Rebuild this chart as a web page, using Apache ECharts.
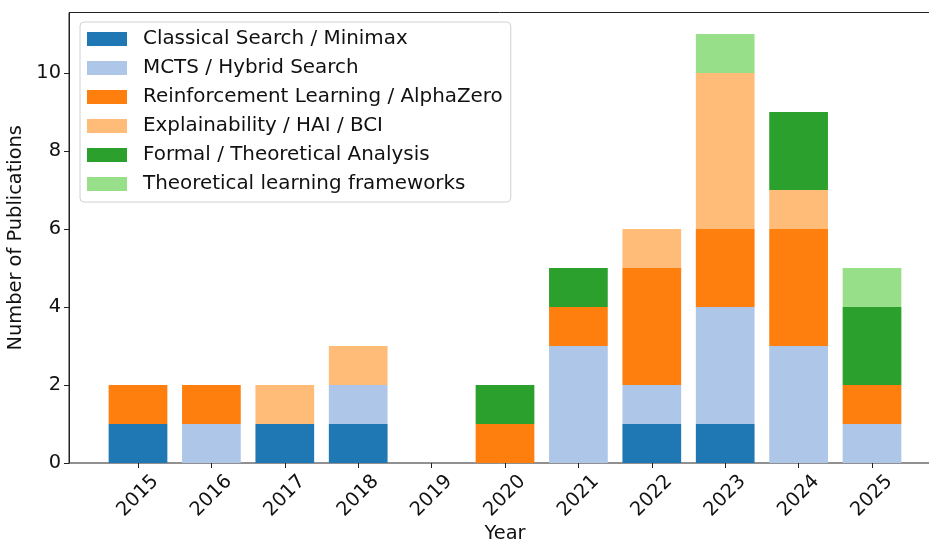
<!DOCTYPE html>
<html>
<head>
<meta charset="UTF-8">
<title>Publications per year</title>
<script src="https://cdn.jsdelivr.net/npm/echarts@6/dist/echarts.min.js"></script>
<style>
  html, body { margin: 0; padding: 0; background: #fff; }
  #main { width: 929px; height: 540px; }
</style>
</head>
<body>
<div id="main"></div>
<script>
// data
var years = ['2015', '2016', '2017', '2018', '2019', '2020', '2021', '2022', '2023', '2024', '2025'];
var classical   = [1, 0, 1, 1, 0, 0, 0, 1, 1, 0, 0];
var mcts        = [0, 1, 0, 1, 0, 0, 3, 1, 3, 3, 1];
var rl          = [1, 1, 0, 0, 0, 1, 1, 3, 2, 3, 1];
var explain     = [0, 0, 1, 1, 0, 0, 0, 1, 4, 1, 0];
var formal      = [0, 0, 0, 0, 0, 1, 1, 0, 0, 2, 2];
var theoLearn   = [0, 0, 0, 0, 0, 0, 0, 0, 1, 0, 1];
var yTicks = [0, 2, 4, 6, 8, 10];

var groups = [
  { name: 'Classical Search / Minimax', data: classical, color: '#1f77b4' },
  { name: 'MCTS / Hybrid Search', data: mcts, color: '#aec7e8' },
  { name: 'Reinforcement Learning / AlphaZero', data: rl, color: '#ff7f0e' },
  { name: 'Explainability / HAI / BCI', data: explain, color: '#ffbb78' },
  { name: 'Formal / Theoretical Analysis', data: formal, color: '#2ca02c' },
  { name: 'Theoretical learning frameworks', data: theoLearn, color: '#98df8a' }
];

var font = 'DejaVu Sans';
var fs = 19.4;
var ink = '#111';
var spine = '#222';
var yMax = 11.55;

var series = groups.map(function (g) {
  return {
    name: g.name,
    type: 'bar',
    stack: 'all',
    barWidth: '80%',
    xAxisIndex: 0,
    yAxisIndex: 0,
    itemStyle: { color: g.color },
    data: g.data
  };
});

var myChart = echarts.init(document.getElementById('main'));
var option = {
  animation: false,
  textStyle: { fontFamily: font },
  grid: [
    // bars: the category bands, inset so the outer frame keeps matplotlib's margins
    { left: 101.3, right: 20.3, top: 12.5, bottom: 77, outerBoundsMode: 'none', containLabel: false },
    // outer frame with the y axis
    { left: 69, right: -12, top: 12.5, bottom: 77, outerBoundsMode: 'none', containLabel: false,
      show: true, borderColor: spine, borderWidth: 1 }
  ],
  legend: {
    orient: 'vertical',
    left: 80,
    top: 22,
    itemWidth: 40,
    itemHeight: 14,
    itemGap: 9,
    padding: [7, 8, 8, 7],
    backgroundColor: '#fff',
    borderColor: '#d0d0d0',
    borderWidth: 1,
    borderRadius: 4,
    icon: 'rect',
    textStyle: { fontFamily: font, fontSize: 19.9, color: ink, lineHeight: 20, padding: [0, 0, 0, 11] },
    data: groups.map(function (g) { return g.name; })
  },
  xAxis: [{
    type: 'category',
    gridIndex: 0,
    data: years,
    boundaryGap: true,
    axisLine: { show: false },
    axisTick: { show: true, alignWithLabel: true, length: 5, lineStyle: { color: spine } },
    axisLabel: {
      rotate: 45,
      align: 'center',
      verticalAlign: 'middle',
      margin: 33,
      fontSize: fs,
      color: ink,
      fontFamily: font,
      interval: 0
    },
    splitLine: { show: false }
  }, {
    type: 'value',
    gridIndex: 1,
    min: 0,
    max: 1,
    name: 'Year',
    nameLocation: 'middle',
    nameGap: 61,
    nameTextStyle: { fontFamily: font, fontSize: fs, color: ink },
    axisLine: { show: false },
    axisTick: { show: false },
    axisLabel: { show: false },
    splitLine: { show: false }
  }],
  yAxis: [{
    type: 'value',
    gridIndex: 0,
    min: 0,
    max: yMax,
    show: false,
    splitLine: { show: false }
  }, {
    type: 'value',
    gridIndex: 1,
    min: 0,
    max: yMax,
    name: 'Number of Publications',
    nameLocation: 'middle',
    nameGap: 39,
    nameTextStyle: { fontFamily: font, fontSize: fs, color: ink },
    axisLine: { show: true, onZero: false, lineStyle: { color: spine, width: 1 } },
    axisTick: { show: true, length: 5, lineStyle: { color: spine }, customValues: yTicks },
    axisLabel: { customValues: yTicks, margin: 8, fontSize: fs, color: ink, fontFamily: font },
    splitLine: { show: false }
  }],
  series: series
};
myChart.setOption(option);
</script>
</body>
</html>
